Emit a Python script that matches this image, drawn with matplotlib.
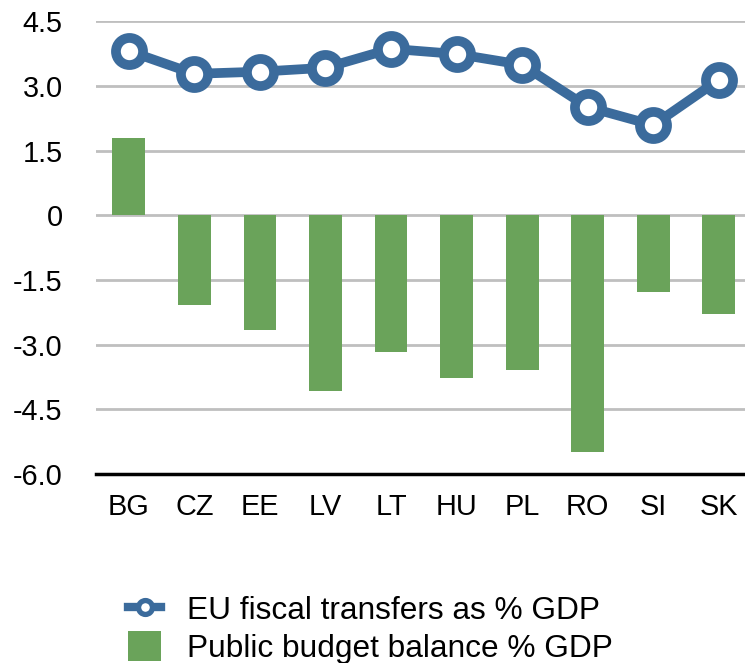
import numpy as np
import matplotlib
matplotlib.use("Agg")
import matplotlib.pyplot as plt
from matplotlib.lines import Line2D
from matplotlib.patches import Patch

countries = ["BG", "CZ", "EE", "LV", "LT", "HU", "PL", "RO", "SI", "SK"]
eu_transfers = [3.81, 3.28, 3.33, 3.42, 3.86, 3.74, 3.49, 2.51, 2.09, 3.14]
budget_balance = [1.80, -2.07, -2.67, -4.08, -3.16, -3.77, -3.58, -5.50, -1.77, -2.28]
yticks = [-6.0, -4.5, -3.0, -1.5, 0, 1.5, 3.0, 4.5]
ytick_labels = ["-6.0", "-4.5", "-3.0", "-1.5", "0", "1.5", "3.0", "4.5"]

blue = "#3b6b9c"
green = "#6aa35a"

plt.rcParams["font.family"] = ["Liberation Sans", "DejaVu Sans"]

fig = plt.figure(figsize=(7.45, 6.63), dpi=100)
ax = fig.add_axes([96 / 745, 0.285, 1 - 96 / 745, 0.968 - 0.285])

x = np.arange(len(countries))
ax.bar(x, budget_balance, width=0.5, color=green, zorder=2)
ax.plot(x, eu_transfers, color=blue, lw=7, marker="o", ms=19.5,
        mfc="white", mec=blue, mew=7, zorder=3)

ax.set_xlim(-0.5, 9.4)
ax.set_ylim(-6.0, 4.5)
ax.set_yticks(yticks)
ax.set_yticklabels(ytick_labels)
ax.set_xticks(x)
ax.set_xticklabels(countries)
ax.tick_params(axis="both", length=0, labelsize=20.8, colors="black")
ax.tick_params(axis="y", pad=24)
ax.tick_params(axis="x", pad=14)

ax.grid(axis="y", color="#bfbfbf", lw=2, zorder=0)
for s in ["left", "right", "top"]:
    ax.spines[s].set_visible(False)
ax.spines["bottom"].set_color("black")
ax.spines["bottom"].set_linewidth(2.5)
ax.spines["bottom"].set_zorder(4)

# legend below the plot
handles = [
    Line2D([0], [0], color=blue, lw=6, marker="o", ms=10, mfc="white", mec=blue, mew=3.8),
    Patch(facecolor=green),
]
labels = ["EU fiscal transfers as % GDP", "Public budget balance % GDP"]
fig.legend(handles, labels, loc="upper left", bbox_to_anchor=(128 / 745, 1 - 594 / 663),
           frameon=False, fontsize=22.8, handlelength=1.05, handleheight=1.05,
           handletextpad=0.8, labelspacing=0.15, borderpad=0, borderaxespad=0)

fig.savefig("out.png", dpi=100)
